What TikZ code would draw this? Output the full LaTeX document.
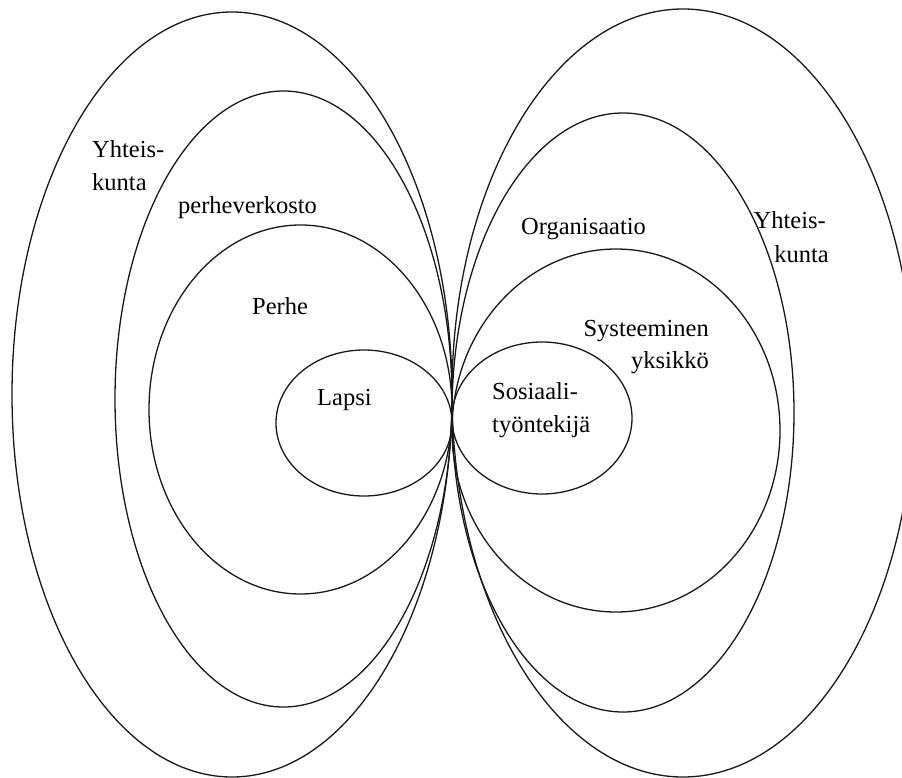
\documentclass[tikz,border=0pt]{standalone}
\usepackage{fontspec}
\setmainfont{Liberation Serif}
\begin{document}
\begin{tikzpicture}[x=1pt,y=-1pt,
  ring/.style={draw=black!90, line width=1.3pt},
  lbl/.style={font=\fontsize{24.5}{33}\selectfont, inner sep=0pt, anchor=base west},
  lblr/.style={lbl, anchor=base east}]
\useasboundingbox (0,0) rectangle (902,778);
\clip (0,0) rectangle (902,778);
% left family
\draw[ring] (232,394.5) ellipse [x radius=220pt, y radius=382.5pt];
\draw[ring] (283.5,399) ellipse [x radius=168.5pt, y radius=308pt];
\draw[ring] (300.5,409.5) ellipse [x radius=151.5pt, y radius=184.5pt];
\draw[ring] (364,423) ellipse [x radius=88pt, y radius=73pt];
% right family
\draw[ring] (683,393) ellipse [x radius=231pt, y radius=384pt];
\draw[ring] (623,412.5) ellipse [x radius=171pt, y radius=299.5pt];
\draw[ring] (616,430.5) ellipse [x radius=164pt, y radius=181.5pt];
\draw[ring] (542,418) ellipse [x radius=90pt, y radius=76pt];
% labels
\node[lbl] (yh1) at (92,158) {Yhteis-};
\node[lbl] (ku1) at (92,191) {kunta};
\node[lbl] (pv) at (178,214) {perheverkosto};
\node[lbl] (pe) at (252,314) {Perhe};
\node[lbl] (la) at (317,405) {Lapsi};
\node[lbl] (so1) at (492,399) {Sosiaali-};
\node[lbl] (so2) at (492,432) {työntekijä};
\node[lbl] (org) at (521,235) {Organisaatio};
\node[lblr] (sy1) at (709,336) {Systeeminen};
\node[lblr] (sy2) at (709,368) {yksikkö};
\node[lblr] (yh2) at (826,229) {Yhteis-};
\node[lblr] (ku2) at (829,262) {kunta};
\end{tikzpicture}
\end{document}
